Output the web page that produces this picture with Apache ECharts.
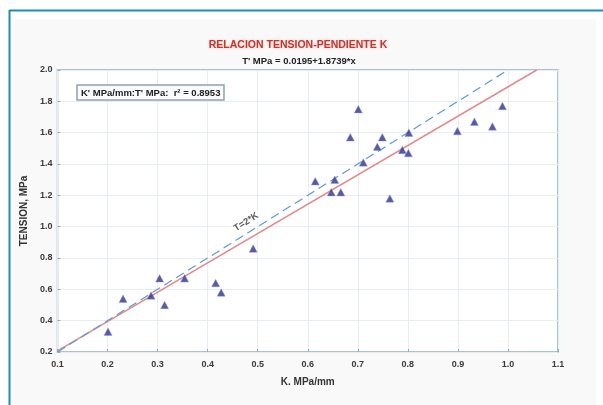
<!DOCTYPE html>
<html><head><meta charset="utf-8">
<script src="https://cdn.jsdelivr.net/npm/echarts@6/dist/echarts.min.js"></script>
<style>html,body{margin:0;padding:0;background:#fff}#c{width:603px;height:405px}</style>
</head><body><div id="c"></div>
<script>
var kValues = [0.201,0.231,0.287,0.304,0.314,0.354,0.416,0.427,0.491,0.615,0.647,0.654,0.666,0.685,0.701,0.711,0.739,0.749,0.764,0.789,0.801,0.802,0.899,0.933,0.969,0.989];
var tValues = [0.33,0.54,0.56,0.67,0.50,0.67,0.64,0.58,0.86,1.29,1.22,1.30,1.22,1.57,1.75,1.41,1.51,1.57,1.18,1.49,1.47,1.60,1.61,1.67,1.64,1.77];
var fitLineK = [0.1, 1.0575];
var fitLineT = [0.207, 2.0];
var refLineK = [0.1, 1.0];
var refLineT = [0.2, 2.0];
var xTicks = ['0.1','0.2','0.3','0.4','0.5','0.6','0.7','0.8','0.9','1.0','1.1'];
var yTicks = ['0.2','0.4','0.6','0.8','1.0','1.2','1.4','1.6','1.8','2.0'];
var refLabelPos = [0.477, 1.03];

var pts = kValues.map(function(k,i){return [k,tValues[i]];});
var fit = fitLineK.map(function(k,i){return [k,fitLineT[i]];});
var ref = refLineK.map(function(k,i){return [k,refLineT[i]];});

var chart = echarts.init(document.getElementById('c'));
var font = 'Liberation Sans, Arial, sans-serif';
chart.setOption({
  animation:false,
  backgroundColor:'#fff',
  graphic:[
    {type:'rect', shape:{x:14,y:19,width:582,height:386}, style:{fill:'#faf9f9'}, z:-10},
    {type:'line', shape:{x1:9,y1:10.5,x2:603,y2:10.5}, style:{stroke:'#1d8db2',lineWidth:2}},
    {type:'line', shape:{x1:9.5,y1:10,x2:9.5,y2:405}, style:{stroke:'#1d8db2',lineWidth:2}}
  ],
  title:[
    {text:'RELACION TENSION-PENDIENTE K', left:293, top:35, textAlign:'center',
     textStyle:{fontFamily:font,fontSize:10.5,fontWeight:'bold',color:'#c0392f',textShadowColor:'rgba(220,80,80,0.35)',textShadowBlur:3}},
    {text:"T' MPa = 0.0195+1.8739*x", left:294, top:51, textAlign:'center',
     textStyle:{fontFamily:font,fontSize:9.5,fontWeight:'bold',color:'#222'}},
    {text:"K' MPa/mm:T' MPa:  r\u00b2 = 0.8953", left:77, top:85,
     padding:[3,4,2,4], borderColor:'#8aa3b3', borderWidth:1.5, backgroundColor:'#fbfbfb',
     textStyle:{fontFamily:font,fontSize:9.5,fontWeight:'bold',color:'#222'}}
  ],
  grid:{left:57.5,right:45,top:70,bottom:53,show:true,backgroundColor:'#fff',borderColor:'#8fb0c4',borderWidth:1.5},
  xAxis:{type:'value',min:0.1,max:1.1,interval:0.1,
    name:'K. MPa/mm',nameLocation:'middle',nameGap:25,
    nameTextStyle:{fontFamily:font,fontSize:10,fontWeight:'bold',color:'#333'},
    axisLine:{show:false},
    axisTick:{show:true,inside:true,length:3,lineStyle:{color:'#8fb0c4'}},
    splitLine:{show:true,lineStyle:{color:'#e6eef3',width:1}},
    axisLabel:{fontFamily:font,fontSize:9,fontWeight:'bold',color:'#3a3a3a',margin:8,
      formatter:function(v){var i=Math.round((v-0.1)*10);return xTicks[i]!==undefined?xTicks[i]:'';}}},
  yAxis:{type:'value',min:0.2,max:2.0,interval:0.2,
    name:'TENSION, MPa',nameLocation:'middle',nameGap:28,
    nameTextStyle:{fontFamily:font,fontSize:10,fontWeight:'bold',color:'#333'},
    axisLine:{show:false},
    axisTick:{show:true,inside:true,length:3,lineStyle:{color:'#8fb0c4'}},
    splitLine:{show:true,lineStyle:{color:'#e6eef3',width:1}},
    axisLabel:{fontFamily:font,fontSize:9,fontWeight:'bold',color:'#3a3a3a',margin:5,
      formatter:function(v){var i=Math.round((v-0.2)*5);return yTicks[i]!==undefined?yTicks[i]:'';}}},
  series:[
    {type:'line',data:fit,symbol:'none',lineStyle:{color:'#e58a8a',width:1.5},z:2,silent:true},
    {type:'line',data:ref,symbol:'none',lineStyle:{color:'#5b9bd5',width:1.2,type:[9,5]},z:3,silent:true},
    {type:'scatter',data:pts,symbol:'triangle',symbolSize:[8,7.5],
      itemStyle:{color:'#2e3192',borderColor:'#8f93d0',borderWidth:0.5},z:5},
    {type:'scatter',data:[refLabelPos],symbolSize:0,z:6,
      label:{show:true,position:'inside',formatter:'T=2*K',rotate:32,
        fontFamily:font,fontSize:9.5,fontWeight:'bold',color:'#333',backgroundColor:'#fff',padding:[0,2]}}
  ]
});
</script></body></html>
